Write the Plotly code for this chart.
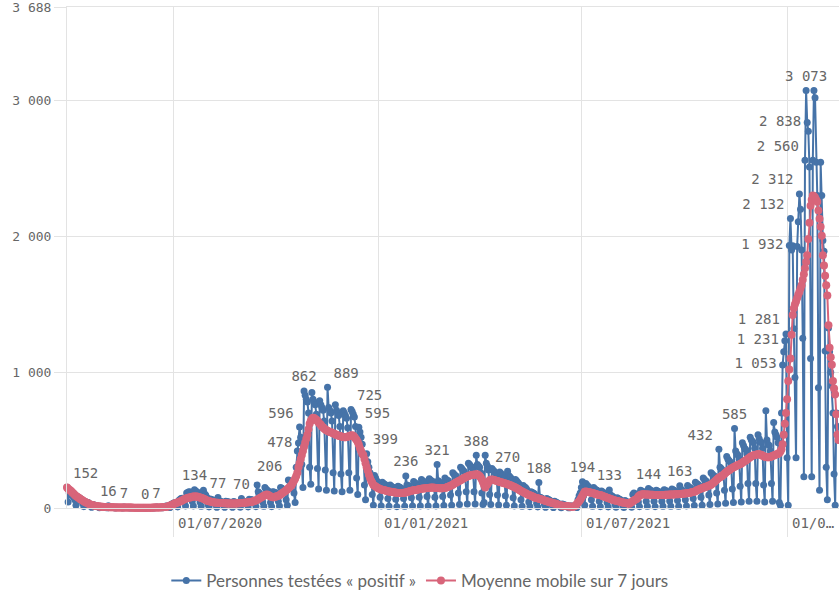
import pandas as pd
import plotly.graph_objects as go

start_date = "2020-03-28"

# Personnes testées « positif » (daily, Sat..Fri per row)
positifs = [
    152, 45, 110, 105, 95, 90, 80,
    60, 20, 85, 80, 75, 70, 55,
    35, 10, 50, 45, 40, 40, 30,
    15, 5, 25, 22, 20, 18, 15,
    8, 2, 12, 10, 9, 8, 7,
    5, 1, 16, 7, 6, 6, 5,
    3, 0, 5, 5, 4, 4, 4,
    2, 0, 7, 3, 3, 3, 2,
    2, 0, 3, 3, 2, 2, 2,
    1, 0, 3, 2, 2, 2, 2,
    0, 0, 3, 3, 2, 2, 2,
    2, 0, 4, 7, 5, 4, 3,
    3, 1, 8, 10, 12, 14, 12,
    10, 3, 25, 30, 35, 38, 35,
    25, 8, 55, 62, 70, 72, 65,
    45, 15, 110, 115, 120, 118, 105,
    50, 15, 134, 125, 120, 115, 100,
    45, 12, 110, 130, 105, 95, 80,
    30, 8, 66, 62, 60, 56, 50,
    25, 5, 77, 52, 50, 48, 40,
    22, 5, 50, 48, 45, 44, 36,
    20, 5, 48, 45, 40, 38, 32,
    22, 6, 70, 52, 50, 48, 40,
    28, 8, 65, 62, 60, 58, 55,
    35, 10, 170, 120, 110, 100, 90,
    45, 12, 150, 140, 130, 125, 110,
    40, 10, 120, 118, 115, 110, 95,
    50, 15, 150, 145, 140, 135, 125,
    60, 20, 206, 200, 190, 190, 175,
    110, 40, 300, 420, 478, 596, 520,
    320, 150, 862, 830, 800, 780, 700,
    300, 175, 850, 800, 780, 760, 690,
    290, 140, 790, 760, 740, 720, 640,
    280, 130, 889, 740, 720, 700, 640,
    260, 125, 760, 720, 700, 680, 600,
    250, 120, 715, 700, 680, 660, 590,
    260, 130, 725, 710, 690, 670, 600,
    220, 100, 595, 560, 520, 470, 400,
    170, 60, 399, 340, 300, 260, 220,
    100, 20, 240, 220, 200, 190, 170,
    80, 15, 190, 180, 175, 170, 150,
    70, 12, 170, 160, 155, 150, 135,
    65, 10, 160, 155, 150, 145, 130,
    70, 12, 236, 170, 165, 160, 140,
    75, 15, 195, 185, 180, 175, 160,
    80, 15, 210, 200, 195, 190, 170,
    85, 15, 215, 205, 200, 195, 175,
    80, 15, 321, 200, 190, 185, 165,
    85, 18, 220, 210, 205, 200, 180,
    95, 20, 260, 250, 240, 235, 210,
    110, 25, 300, 290, 280, 270, 245,
    120, 30, 330, 320, 310, 300, 270,
    120, 30, 388, 320, 310, 300, 260,
    110, 25, 40, 388, 330, 310, 280,
    100, 25, 290, 280, 270, 260, 240,
    95, 22, 265, 255, 245, 240, 220,
    90, 20, 270, 240, 230, 220, 200,
    75, 15, 210, 200, 190, 180, 160,
    60, 12, 165, 155, 150, 140, 125,
    45, 10, 120, 115, 110, 105, 90,
    35, 8, 188, 80, 75, 70, 60,
    25, 5, 70, 65, 60, 55, 45,
    18, 3, 50, 45, 40, 35, 30,
    10, 2, 30, 25, 22, 20, 18,
    6, 1, 15, 14, 12, 12, 15,
    10, 3, 60, 90, 110, 150, 194,
    90, 20, 180, 170, 160, 150, 140,
    60, 12, 150, 140, 135, 130, 115,
    50, 10, 125, 118, 112, 105, 92,
    40, 8, 133, 95, 90, 85, 75,
    30, 6, 75, 70, 65, 60, 50,
    22, 4, 55, 50, 45, 40, 35,
    25, 6, 100, 110, 105, 100, 90,
    45, 10, 130, 125, 120, 118, 110,
    50, 12, 144, 135, 130, 125, 115,
    50, 10, 130, 125, 120, 118, 105,
    50, 12, 135, 130, 125, 120, 110,
    52, 12, 140, 135, 128, 125, 112,
    55, 12, 163, 140, 130, 125, 115,
    60, 15, 165, 155, 150, 145, 130,
    70, 18, 190, 180, 175, 170, 155,
    80, 20, 220, 210, 200, 195, 180,
    95, 25, 260, 250, 240, 235, 215,
    110, 30, 432, 300, 290, 280, 255,
    130, 35, 380, 360, 350, 340, 310,
    140, 40, 585, 420, 400, 390, 360,
    160, 45, 480, 460, 440, 430, 400,
    180, 50, 520, 500, 490, 480, 440,
    180, 50, 540, 510, 490, 480, 440,
    170, 45, 715, 500, 470, 460, 420,
    180, 50, 630, 560, 540, 520, 480,
    40, 20, 700, 1053, 1150, 1231, 1281,
    370, 20, 1932, 2132, 1900, 1930, 1320,
    960, 370, 1925, 2107, 2312, 2200, 1900,
    1250, 230, 2560, 3073, 2838, 2773, 2510,
    1100, 230, 2560, 3073, 3020, 2545, 2300,
    885, 130, 2545, 2300, 1970, 1890, 1155,
    300, 60, 1325, 1150, 1000, 900, 700,
    250, 20, 700, 600, 500,
]

# Moyenne mobile sur 7 jours (daily)
moyenne_7j = [
    150, 142, 135, 128, 122, 113, 104,
    95, 89, 83, 77, 71, 65, 60,
    55, 50, 45, 41, 37, 33, 28,
    25, 22, 20, 18, 16, 15, 13,
    12, 11, 10, 9, 9, 8, 8,
    7, 7, 6, 6, 5, 5, 5,
    5, 4, 4, 4, 4, 4, 4,
    4, 3, 3, 3, 3, 3, 3,
    3, 3, 3, 2, 2, 2, 2,
    2, 2, 2, 2, 2, 2, 2,
    2, 2, 2, 2, 2, 2, 2,
    3, 3, 3, 3, 4, 4, 4,
    5, 5, 6, 7, 8, 9, 11,
    13, 17, 20, 24, 28, 32, 35,
    38, 40, 44, 48, 52, 56, 60,
    65, 68, 71, 74, 77, 78, 80,
    82, 84, 85, 85, 84, 82, 80,
    78, 75, 72, 68, 64, 60, 55,
    52, 50, 48, 46, 44, 42, 40,
    39, 38, 38, 37, 37, 36, 36,
    35, 35, 35, 34, 34, 34, 34,
    33, 33, 33, 33, 34, 34, 35,
    35, 35, 36, 37, 38, 39, 40,
    41, 42, 43, 45, 45, 47, 50,
    53, 56, 60, 65, 70, 75, 80,
    85, 90, 94, 98, 100, 96, 90,
    85, 82, 80, 80, 82, 84, 87,
    90, 94, 100, 106, 112, 118, 124,
    130, 137, 145, 152, 160, 170, 185,
    200, 215, 235, 260, 300, 330, 360,
    390, 420, 450, 480, 510, 540, 580,
    620, 640, 655, 665, 662, 655, 650,
    640, 630, 620, 612, 600, 592, 585,
    578, 572, 568, 564, 560, 557, 554,
    550, 546, 542, 538, 535, 532, 530,
    528, 525, 523, 521, 520, 522, 525,
    528, 531, 533, 535, 532, 522, 512,
    500, 485, 465, 440, 420, 400, 390,
    360, 330, 300, 275, 245, 220, 200,
    185, 170, 164, 158, 153, 148, 144,
    140, 137, 135, 132, 130, 128, 126,
    124, 122, 120, 119, 118, 117, 115,
    113, 112, 111, 110, 110, 110, 111,
    112, 113, 115, 117, 119, 122, 125,
    127, 129, 131, 133, 133, 135, 137,
    138, 140, 141, 143, 144, 145, 146,
    147, 148, 149, 149, 150, 150, 149,
    149, 148, 148, 147, 146, 145, 145,
    146, 147, 148, 150, 153, 156, 160,
    164, 168, 172, 178, 182, 187, 192,
    196, 200, 205, 210, 215, 220, 225,
    229, 232, 236, 240, 242, 243, 244,
    245, 246, 247, 248, 242, 235, 225,
    210, 190, 170, 150, 165, 175, 190,
    205, 208, 210, 208, 206, 203, 200,
    198, 195, 192, 190, 188, 185, 183,
    180, 178, 175, 172, 170, 166, 162,
    158, 154, 150, 146, 142, 136, 130,
    126, 122, 117, 113, 108, 104, 100,
    96, 93, 90, 86, 82, 78, 75,
    73, 71, 69, 67, 64, 61, 58,
    55, 52, 50, 48, 45, 42, 40,
    37, 35, 33, 31, 29, 26, 23,
    20, 18, 17, 16, 15, 14, 13,
    12, 11, 10, 10, 10, 10, 12,
    20, 30, 40, 50, 60, 75, 90,
    105, 120, 122, 120, 118, 116, 115,
    113, 110, 108, 105, 103, 100, 98,
    96, 95, 92, 88, 85, 82, 79,
    76, 73, 70, 67, 64, 61, 58,
    55, 53, 51, 49, 47, 45, 43,
    40, 39, 38, 36, 34, 33, 32,
    38, 45, 50, 55, 60, 65, 70,
    85, 92, 97, 100, 101, 101, 100,
    100, 100, 99, 98, 98, 97, 97,
    96, 96, 95, 95, 95, 95, 95,
    95, 96, 96, 97, 97, 98, 98,
    99, 99, 100, 100, 100, 101, 101,
    102, 102, 103, 103, 104, 105, 106,
    107, 108, 109, 110, 112, 114, 116,
    117, 120, 124, 128, 132, 136, 140,
    143, 146, 149, 152, 155, 158, 161,
    165, 168, 172, 178, 185, 192, 200,
    208, 215, 222, 227, 232, 238, 245,
    252, 260, 266, 272, 278, 284, 290,
    295, 300, 304, 308, 312, 316, 320,
    322, 328, 334, 340, 345, 350, 355,
    362, 368, 375, 380, 385, 388, 390,
    392, 394, 395, 395, 393, 390, 385,
    382, 378, 375, 373, 373, 374, 376,
    380, 383, 386, 390, 393, 395, 400,
    405, 415, 432, 470, 540, 620, 700,
    800, 935, 1020, 1100, 1275, 1420, 1470,
    1500, 1520, 1545, 1570, 1590, 1615, 1640,
    1680, 1720, 1765, 1810, 1860, 1980, 2100,
    2225, 2270, 2300, 2295, 2285, 2270, 2255,
    2190, 2130, 2070, 2005, 1860, 1785, 1710,
    1640, 1565, 1345, 1180, 1110, 1055, 935,
    880, 835, 690, 540, 500,
]

# indices (days) of blue points carrying a value label, and label placement
label_idx = [0, 37, 51, 70, 80, 114, 135, 156, 198, 207, 208, 212, 233, 254,
             261, 268, 303, 331, 366, 394, 422, 461, 485, 520, 548, 583, 597,
             640, 642, 643, 646, 647, 655, 660, 662, 661]
label_pos = ["top right", "top center", "top center", "top center", "top center",
             "top center", "top center", "top center", "top left", "middle left",
             "top left", "top center", "top right", "top right", "top right",
             "top right", "top center", "top center", "top center", "top center",
             "top center", "top center", "top center", "top center", "top center",
             "top left", "top center", "middle left", "middle left", "top left",
             "middle left", "top left", "top left", "top left", "middle left",
             "top center"]

y_ticks = [0, 1000, 2000, 3000, 3688]
y_ticktext = ["0", "1 000", "2 000", "3 000", "3 688"]
x_ticks = ["2020-07-01", "2021-01-01", "2021-07-01", "2022-01-01"]
x_ticktext = ["01/07/2020", "01/01/2021", "01/07/2021", "01/0…"]

serie_names = ["Personnes testées « positif »", "Moyenne mobile sur 7 jours"]

BLUE = "#4673a8"
RED = "#d8657a"
GRID = "#e3e3e3"
TXT = "#666666"
MONO = "DejaVu Sans Mono, monospace"

dates_b = pd.date_range(start_date, periods=len(positifs), freq="D")
dates_r = pd.date_range(start_date, periods=len(moyenne_7j), freq="D")

def fmt(v):
    return f"{v:,}".replace(",", " ")

fig = go.Figure()
fig.add_trace(go.Scatter(
    x=dates_b, y=positifs, mode="lines+markers", name=serie_names[0],
    line=dict(color=BLUE, width=2), marker=dict(color=BLUE, size=7),
    cliponaxis=False,
))
fig.add_trace(go.Scatter(
    x=dates_r, y=moyenne_7j, mode="lines+markers", name=serie_names[1],
    line=dict(color=RED, width=2), marker=dict(color=RED, size=8),
    cliponaxis=False,
))
fig.add_trace(go.Scatter(
    x=[dates_b[i] for i in label_idx],
    y=[positifs[i] for i in label_idx],
    text=[fmt(positifs[i]) for i in label_idx],
    textposition=label_pos,
    mode="markers+text",
    marker=dict(size=8, opacity=0),
    textfont=dict(family=MONO, size=14, color=TXT),
    showlegend=False, hoverinfo="skip", cliponaxis=False,
))

for d, t in zip(x_ticks, x_ticktext):
    fig.add_annotation(
        x=d, xref="x", y=0, yref="paper", yshift=-15, xshift=3,
        text=t, showarrow=False, xanchor="left", yanchor="middle",
        font=dict(family=MONO, size=14, color=TXT),
    )

fig.update_layout(
    width=839, height=599,
    margin=dict(l=67, r=0, t=7, b=88),
    paper_bgcolor="white", plot_bgcolor="white",
    showlegend=True,
    legend=dict(
        orientation="h", x=0.457, xanchor="center", y=-0.146, yanchor="middle",
        font=dict(family="Lato, Liberation Sans, sans-serif", size=17, color=TXT),
        itemwidth=30, traceorder="normal",
    ),
    xaxis=dict(
        type="date",
        range=["2020-03-28", "2022-02-16 10:00"],
        tickvals=x_ticks, showticklabels=False,
        showgrid=True, gridcolor=GRID, gridwidth=1,
        ticks="outside", ticklen=28, tickcolor=GRID, tickwidth=1,
        zeroline=False, showline=True, mirror=True, linecolor=GRID, linewidth=1,
    ),
    yaxis=dict(
        range=[0, 3688],
        tickvals=y_ticks, ticktext=y_ticktext,
        showgrid=True, gridcolor=GRID, gridwidth=1,
        ticks="outside", ticklen=12, tickcolor=GRID, tickwidth=1,
        tickfont=dict(family=MONO, size=13, color=TXT),
        ticklabeloverflow="allow",
        zeroline=False, showline=True, linecolor=GRID, linewidth=1,
    ),
)

fig.write_html("out.html", config={"displayModeBar": False},
               post_script="document.body.style.margin='0';")
